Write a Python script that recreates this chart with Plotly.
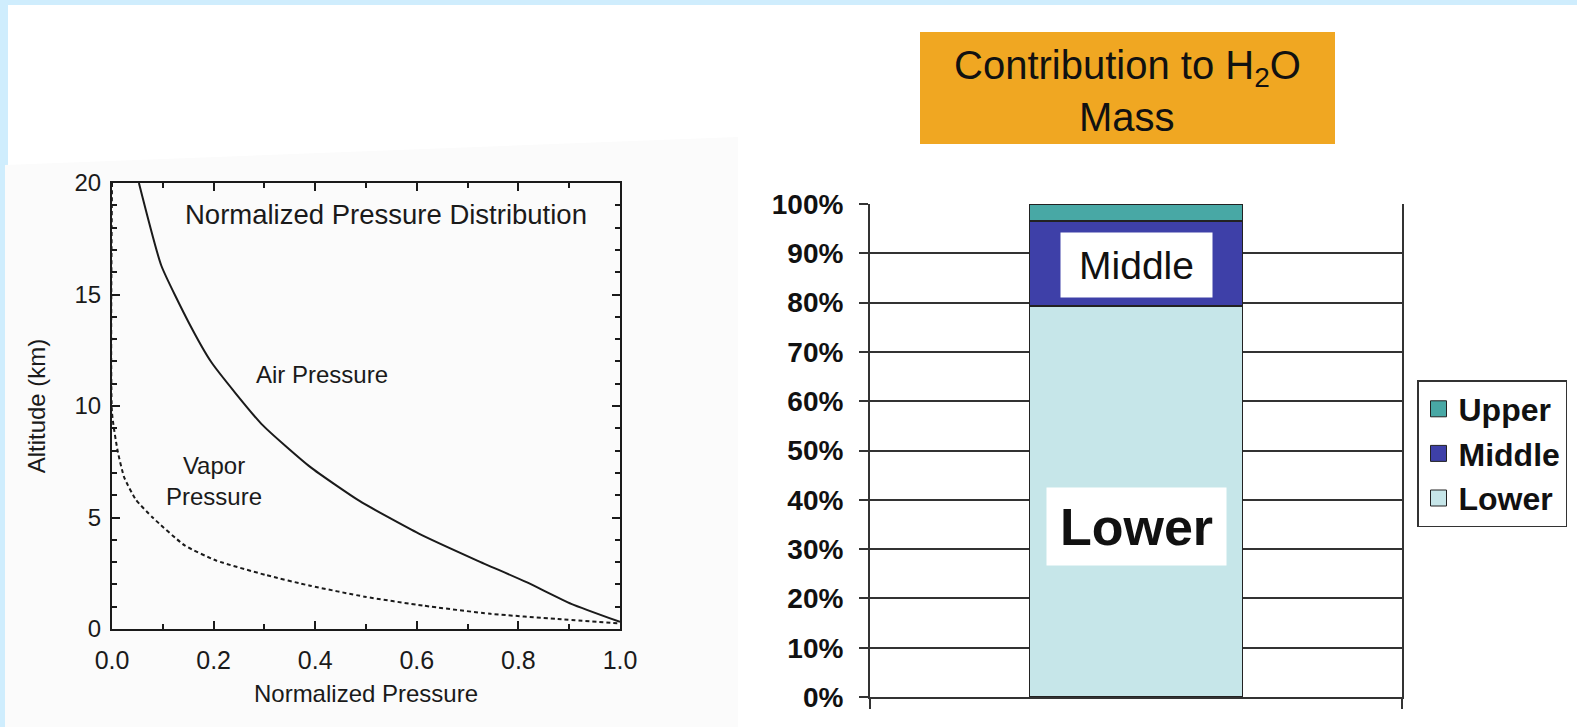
import plotly.graph_objects as go

W, H = 1577, 727

# ---------------- data: left panel (normalized pressure profiles) ----------------
air_pressure = [0.053, 0.097, 0.152, 0.196, 0.294, 0.39, 0.488, 0.604, 0.719, 0.816, 0.904, 1.0]
air_altitude = [20.0, 16.3, 13.7, 11.95, 9.2, 7.27, 5.73, 4.28, 3.07, 2.1, 1.13, 0.32]
vapor_pressure = [0.0, 0.0, 0.011, 0.024, 0.047, 0.08, 0.143, 0.205, 0.303, 0.39, 0.497, 0.612, 0.745, 0.878, 1.0]
vapor_altitude = [20.0, 9.7, 8.0, 6.8, 5.8, 5.0, 3.75, 3.07, 2.42, 1.94, 1.45, 1.05, 0.68, 0.45, 0.25]
x_ticks = [0.0, 0.2, 0.4, 0.6, 0.8, 1.0]
y_ticks = [0, 5, 10, 15, 20]

# ---------------- data: right panel (contribution to H2O mass) ----------------
bar_category = ["H2O"]
layers = ["Lower", "Middle", "Upper"]
layer_share = [79.3, 17.3, 3.4]
layer_colors = ["#C6E6E9", "#3E40A8", "#48A8A5"]
pct_ticks = list(range(0, 101, 10))
pct_labels = [f"{v}%" for v in pct_ticks]


def fx(p):
    return p / W


def fy(p):
    return 1 - p / H


FONT = "Liberation Sans"
INK = "#1a1a1a"

fig = go.Figure()

# left panel curves
fig.add_trace(go.Scatter(x=air_pressure, y=air_altitude, mode="lines", name="Air Pressure",
                         line=dict(color=INK, width=2, shape="spline", smoothing=0.5),
                         showlegend=False, xaxis="x", yaxis="y"))
fig.add_trace(go.Scatter(x=vapor_pressure, y=vapor_altitude, mode="lines", name="Vapor Pressure",
                         line=dict(color=INK, width=2, dash="4px,3px", shape="spline", smoothing=0.5),
                         showlegend=False, xaxis="x", yaxis="y"))

# right panel stacked bars
for name, val, col in zip(layers, layer_share, layer_colors):
    fig.add_trace(go.Bar(x=bar_category, y=[val], name=name,
                         marker=dict(color=col, line=dict(color="#222", width=1.5)),
                         width=0.4, showlegend=False, legendgroup=name, xaxis="x2", yaxis="y2"))

# legend entries (square swatches), top to bottom Upper, Middle, Lower
for name, col in zip(layers[::-1], layer_colors[::-1]):
    fig.add_trace(go.Scatter(x=[None], y=[None], mode="markers", name=name, legendgroup=name,
                             marker=dict(symbol="square", size=16, color=col, line=dict(color="#222", width=1)),
                             xaxis="x2", yaxis="y2"))

shapes = [
    # white slide panel
    dict(type="rect", xref="paper", yref="paper", x0=fx(8), x1=1, y0=0, y1=fy(5),
         fillcolor="white", line=dict(width=0), layer="below"),
    # scanned figure backdrop (left)
    dict(type="path", xref="paper", yref="paper",
         path=f"M {fx(5)},{fy(727)} L {fx(5)},{fy(165)} L {fx(738)},{fy(137)} L {fx(738)},{fy(727)} Z",
         fillcolor="#fbfbfb", line=dict(width=0), layer="below"),
    # title box
    dict(type="rect", xref="paper", yref="paper", x0=fx(920), x1=fx(1335), y0=fy(144), y1=fy(32),
         fillcolor="#F0A722", line=dict(width=0), layer="below"),
]

C = dict(showarrow=False, xanchor="center", yanchor="middle")
annotations = [
    dict(text="Normalized Pressure Distribution", x=0.54, y=18.6, xref="x", yref="y",
         font=dict(family=FONT, size=27.5, color=INK), **C),
    dict(text="Air Pressure", x=0.413, y=11.43, xref="x", yref="y",
         font=dict(family=FONT, size=24, color=INK), **C),
    dict(text="Vapor<br>Pressure", x=0.20, y=6.64, xref="x", yref="y",
         font=dict(family=FONT, size=24, color=INK), **C),
    dict(text="Contribution to H<sub>2</sub>O", x=fx(1127), y=fy(68), xref="paper", yref="paper",
         font=dict(family=FONT, size=40, color="#111"), **C),
    dict(text="Mass", x=fx(1127), y=fy(117), xref="paper", yref="paper",
         font=dict(family=FONT, size=40, color="#111"), **C),
    dict(text="Middle", x=bar_category[0], y=87.6, xref="x2", yref="y2",
         bgcolor="white", width=151, height=64, borderpad=0,
         font=dict(family=FONT, size=39, color="#111"), **C),
    dict(text="<b>Lower</b>", x=bar_category[0], y=34.5, xref="x2", yref="y2",
         bgcolor="white", width=179, height=77, borderpad=0,
         font=dict(family=FONT, size=52, color="#111"), **C),
]

fig.update_layout(
    width=W, height=H,
    margin=dict(l=0, r=0, t=0, b=0, autoexpand=False),
    paper_bgcolor="#CFEDFD",
    plot_bgcolor="rgba(0,0,0,0)",
    barmode="stack",
    shapes=shapes,
    annotations=annotations,
    showlegend=True,
    legend=dict(x=fx(1417), y=fy(380), xanchor="left", yanchor="top",
                bgcolor="white", bordercolor="#333", borderwidth=1.5,
                font=dict(family=FONT, size=32, color="#111", weight="bold"),
                traceorder="grouped", tracegroupgap=0, itemclick=False, itemdoubleclick=False),
    xaxis=dict(domain=[fx(112), fx(620)], range=[0, 1], tickvals=x_ticks, ticktext=[f"{v:.1f}" for v in x_ticks],
               ticks="inside", ticklen=8, tickwidth=1.5, tickcolor=INK,
               minor=dict(dtick=0.1, ticks="inside", ticklen=5, tickcolor=INK),
               showline=True, linecolor=INK, linewidth=2, mirror="ticks", showgrid=False, zeroline=False,
               tickfont=dict(family=FONT, size=25, color=INK), ticklabelstandoff=8,
               title=dict(text="Normalized Pressure", font=dict(family=FONT, size=24, color=INK), standoff=12),
               anchor="y", automargin=False, fixedrange=True),
    yaxis=dict(domain=[fy(629), fy(183)], range=[0, 20], tickvals=y_ticks, ticktext=[str(v) for v in y_ticks],
               ticks="inside", ticklen=8, tickwidth=1.5, tickcolor=INK,
               minor=dict(dtick=1, ticks="inside", ticklen=5, tickcolor=INK),
               showline=True, linecolor=INK, linewidth=2, mirror="ticks", showgrid=False, zeroline=False,
               tickfont=dict(family=FONT, size=24, color=INK), ticklabelstandoff=4,
               title=dict(text="Altitude (km)", font=dict(family=FONT, size=24, color=INK), standoff=22),
               anchor="x", automargin=False, fixedrange=True),
    xaxis2=dict(domain=[fx(870), fx(1402)], type="category", tickson="boundaries",
                ticks="outside", ticklen=10, tickwidth=2, tickcolor="#333", showticklabels=False,
                showline=True, linecolor="#333", linewidth=2, showgrid=False, zeroline=False,
                anchor="y2", automargin=False, fixedrange=True),
    yaxis2=dict(domain=[fy(697), fy(204)], range=[0, 100], tickvals=pct_ticks, ticktext=pct_labels,
                ticks="outside", ticklen=9, tickwidth=2, tickcolor="#333",
                showline=True, linecolor="#333", linewidth=2, mirror=True,
                showgrid=True, gridcolor="#333", gridwidth=2, zeroline=False,
                tickfont=dict(family=FONT, size=28, color="#111", weight="bold"), ticklabelstandoff=10,
                anchor="x2", automargin=False, fixedrange=True),
)

fig.write_html("out.html", config={"displayModeBar": False},
               post_script="document.body.style.margin='0';document.body.style.overflow='hidden';")
